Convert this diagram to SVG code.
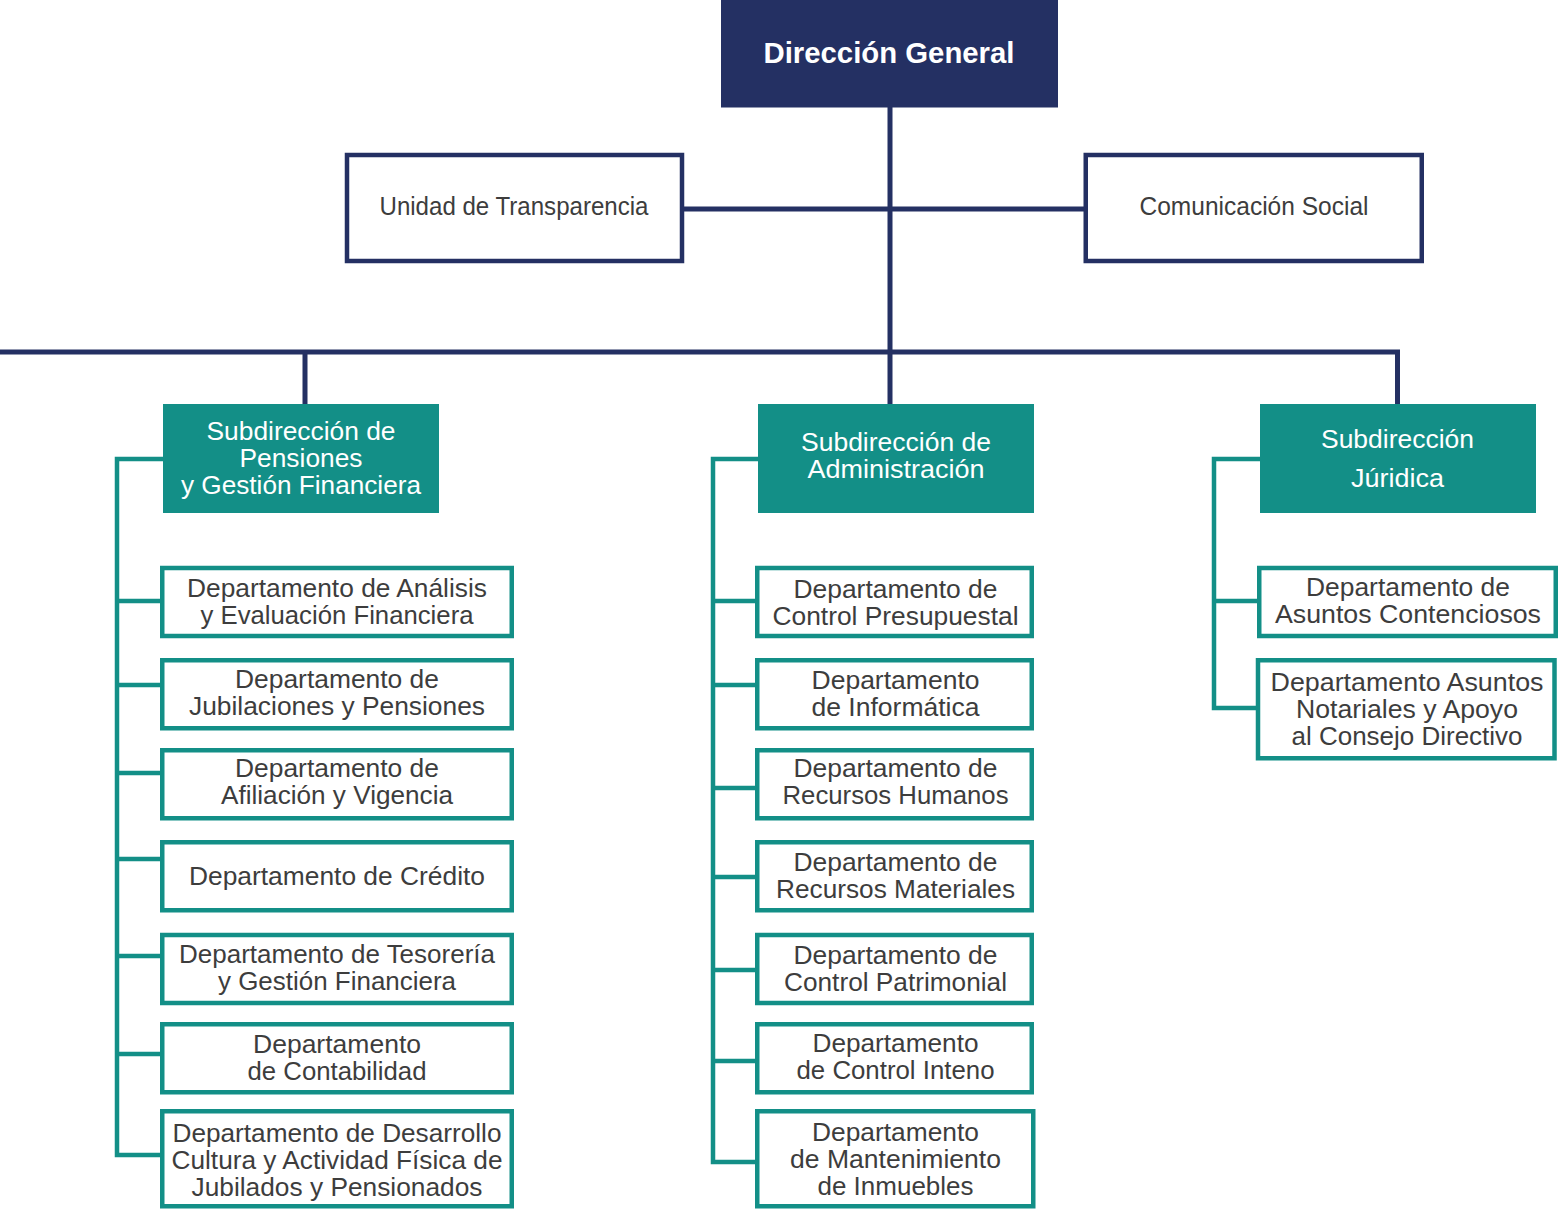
<svg xmlns="http://www.w3.org/2000/svg" width="1565" height="1209" viewBox="0 0 1565 1209">
<style>
.bg{fill:#ffffff}
.top{fill:#243063}
.navybox{fill:#ffffff;stroke:#243063;stroke-width:4.5}
.sub{fill:#138f87}
.dept{fill:#ffffff;stroke:#138f87;stroke-width:4.5}
.navyline{fill:none;stroke:#243063;stroke-width:5}
.tealline{fill:none;stroke:#138f87;stroke-width:4.5}
text{font-family:"Liberation Sans","DejaVu Sans",sans-serif;text-anchor:middle}
.tt{fill:#ffffff;font-size:30px;font-weight:bold}
.lt{fill:#3d3d3d;font-size:25px}
.st{fill:#ffffff;font-size:26px}
.dt{fill:#3d3d3d;font-size:25px}
</style>
<rect class="bg" x="0" y="0" width="1565" height="1209"/>
<g id="connectors">
<path class="navyline" d="M890,107 V404"/>
<path class="navyline" d="M684,209 H1085"/>
<path class="navyline" d="M0,352 H1400 M305,352 V404 M1397.5,352 V404"/>
<path class="tealline" d="M163,459 H117 V1155 H162 M117,601 H162 M117,685 H162 M117,773 H162 M117,859 H162 M117,956 H162 M117,1054 H162"/>
<path class="tealline" d="M758,459 H713 V1162 H757 M713,601 H757 M713,685 H757 M713,788 H757 M713,877 H757 M713,970 H757 M713,1061 H757"/>
<path class="tealline" d="M1260,459 H1214 V708 H1258 M1214,601 H1259"/>
</g>
<g id="direccion-general">
<rect class="top" x="721" y="0" width="337" height="107.5"/>
<text class="tt" x="889" y="63" textLength="251" lengthAdjust="spacingAndGlyphs">Dirección General</text>
</g>
<g id="unidad-transparencia">
<rect class="navybox" x="347" y="155" width="335" height="106"/>
<text class="lt" x="514" y="215" textLength="269" lengthAdjust="spacingAndGlyphs">Unidad de Transparencia</text>
</g>
<g id="comunicacion-social">
<rect class="navybox" x="1085.75" y="155" width="336" height="106"/>
<text class="lt" x="1254" y="215" textLength="229" lengthAdjust="spacingAndGlyphs">Comunicación Social</text>
</g>
<g id="sub-pensiones">
<rect class="sub" x="163" y="404" width="276" height="109"/>
<text class="st" x="301" y="440" textLength="189" lengthAdjust="spacingAndGlyphs">Subdirección de</text>
<text class="st" x="301" y="467" textLength="123" lengthAdjust="spacingAndGlyphs">Pensiones</text>
<text class="st" x="301" y="494" textLength="240" lengthAdjust="spacingAndGlyphs">y Gestión Financiera</text>
</g>
<g id="sub-administracion">
<rect class="sub" x="758" y="404" width="276" height="109"/>
<text class="st" x="896" y="451" textLength="190" lengthAdjust="spacingAndGlyphs">Subdirección de</text>
<text class="st" x="896" y="478" textLength="177" lengthAdjust="spacingAndGlyphs">Administración</text>
</g>
<g id="sub-juridica">
<rect class="sub" x="1260" y="404" width="276" height="109"/>
<text class="st" x="1397.5" y="448" textLength="153" lengthAdjust="spacingAndGlyphs">Subdirección</text>
<text class="st" x="1397.5" y="487" textLength="93" lengthAdjust="spacingAndGlyphs">Júridica</text>
</g>
<g id="dep-analisis">
<rect class="dept" x="162.25" y="568" width="349.5" height="68"/>
<text class="dt" x="337" y="597" textLength="300" lengthAdjust="spacingAndGlyphs">Departamento de Análisis</text>
<text class="dt" x="337" y="624" textLength="273" lengthAdjust="spacingAndGlyphs">y Evaluación Financiera</text>
</g>
<g id="dep-jubilaciones">
<rect class="dept" x="162.25" y="660.25" width="349.5" height="68"/>
<text class="dt" x="337" y="688" textLength="204" lengthAdjust="spacingAndGlyphs">Departamento de</text>
<text class="dt" x="337" y="715" textLength="296" lengthAdjust="spacingAndGlyphs">Jubilaciones y Pensiones</text>
</g>
<g id="dep-afiliacion">
<rect class="dept" x="162.25" y="750.25" width="349.5" height="68"/>
<text class="dt" x="337" y="777" textLength="204" lengthAdjust="spacingAndGlyphs">Departamento de</text>
<text class="dt" x="337" y="804" textLength="232" lengthAdjust="spacingAndGlyphs">Afiliación y Vigencia</text>
</g>
<g id="dep-credito">
<rect class="dept" x="162.25" y="842.25" width="349.5" height="68"/>
<text class="dt" x="337" y="885" textLength="296" lengthAdjust="spacingAndGlyphs">Departamento de Crédito</text>
</g>
<g id="dep-tesoreria">
<rect class="dept" x="162.25" y="935" width="349.5" height="68"/>
<text class="dt" x="337" y="963" textLength="316" lengthAdjust="spacingAndGlyphs">Departamento de Tesorería</text>
<text class="dt" x="337" y="990" textLength="238" lengthAdjust="spacingAndGlyphs">y Gestión Financiera</text>
</g>
<g id="dep-contabilidad">
<rect class="dept" x="162.25" y="1024.25" width="349.5" height="68"/>
<text class="dt" x="337" y="1053" textLength="168" lengthAdjust="spacingAndGlyphs">Departamento</text>
<text class="dt" x="337" y="1080" textLength="179" lengthAdjust="spacingAndGlyphs">de Contabilidad</text>
</g>
<g id="dep-desarrollo">
<rect class="dept" x="162.25" y="1111.25" width="349.5" height="95"/>
<text class="dt" x="337" y="1142" textLength="329" lengthAdjust="spacingAndGlyphs">Departamento de Desarrollo</text>
<text class="dt" x="337" y="1169" textLength="331" lengthAdjust="spacingAndGlyphs">Cultura y Actividad Física de</text>
<text class="dt" x="337" y="1196" textLength="291" lengthAdjust="spacingAndGlyphs">Jubilados y Pensionados</text>
</g>
<g id="dep-presupuestal">
<rect class="dept" x="757.25" y="568" width="274.5" height="68"/>
<text class="dt" x="895.5" y="598" textLength="204" lengthAdjust="spacingAndGlyphs">Departamento de</text>
<text class="dt" x="895.5" y="625" textLength="246" lengthAdjust="spacingAndGlyphs">Control Presupuestal</text>
</g>
<g id="dep-informatica">
<rect class="dept" x="757.25" y="660.25" width="274.5" height="68"/>
<text class="dt" x="895.5" y="689" textLength="168" lengthAdjust="spacingAndGlyphs">Departamento</text>
<text class="dt" x="895.5" y="716" textLength="168" lengthAdjust="spacingAndGlyphs">de Informática</text>
</g>
<g id="dep-rrhh">
<rect class="dept" x="757.25" y="750.25" width="274.5" height="68"/>
<text class="dt" x="895.5" y="777" textLength="204" lengthAdjust="spacingAndGlyphs">Departamento de</text>
<text class="dt" x="895.5" y="804" textLength="226" lengthAdjust="spacingAndGlyphs">Recursos Humanos</text>
</g>
<g id="dep-materiales">
<rect class="dept" x="757.25" y="842.25" width="274.5" height="68"/>
<text class="dt" x="895.5" y="871" textLength="204" lengthAdjust="spacingAndGlyphs">Departamento de</text>
<text class="dt" x="895.5" y="898" textLength="239" lengthAdjust="spacingAndGlyphs">Recursos Materiales</text>
</g>
<g id="dep-patrimonial">
<rect class="dept" x="757.25" y="935" width="274.5" height="68"/>
<text class="dt" x="895.5" y="964" textLength="204" lengthAdjust="spacingAndGlyphs">Departamento de</text>
<text class="dt" x="895.5" y="991" textLength="223" lengthAdjust="spacingAndGlyphs">Control Patrimonial</text>
</g>
<g id="dep-control-interno">
<rect class="dept" x="757.25" y="1024.25" width="274.5" height="68"/>
<text class="dt" x="895.5" y="1052" textLength="166" lengthAdjust="spacingAndGlyphs">Departamento</text>
<text class="dt" x="895.5" y="1079" textLength="198" lengthAdjust="spacingAndGlyphs">de Control Inteno</text>
</g>
<g id="dep-mantenimiento">
<rect class="dept" x="757.25" y="1111.25" width="276" height="95"/>
<text class="dt" x="895.5" y="1141" textLength="167" lengthAdjust="spacingAndGlyphs">Departamento</text>
<text class="dt" x="895.5" y="1168" textLength="211" lengthAdjust="spacingAndGlyphs">de Mantenimiento</text>
<text class="dt" x="895.5" y="1195" textLength="156" lengthAdjust="spacingAndGlyphs">de Inmuebles</text>
</g>
<g id="dep-contenciosos">
<rect class="dept" x="1259.25" y="568" width="296.5" height="68"/>
<text class="dt" x="1408" y="596" textLength="204" lengthAdjust="spacingAndGlyphs">Departamento de</text>
<text class="dt" x="1408" y="623" textLength="266" lengthAdjust="spacingAndGlyphs">Asuntos Contenciosos</text>
</g>
<g id="dep-notariales">
<rect class="dept" x="1258" y="660.25" width="296.5" height="98"/>
<text class="dt" x="1407" y="691" textLength="273" lengthAdjust="spacingAndGlyphs">Departamento Asuntos</text>
<text class="dt" x="1407" y="718" textLength="222" lengthAdjust="spacingAndGlyphs">Notariales y Apoyo</text>
<text class="dt" x="1407" y="745" textLength="231" lengthAdjust="spacingAndGlyphs">al Consejo Directivo</text>
</g>
</svg>
